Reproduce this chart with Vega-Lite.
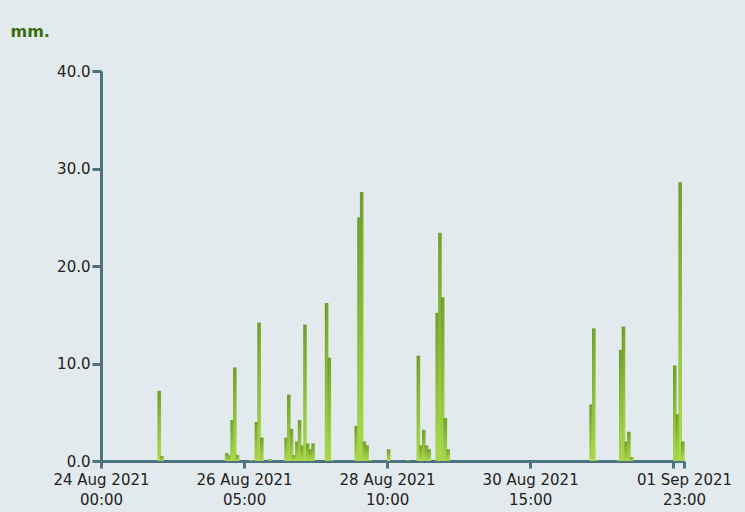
{
  "$schema": "https://vega.github.io/schema/vega-lite/v6.json",
  "width": 583,
  "height": 390,
  "autosize": {"type": "none"},
  "padding": {"left": 101, "top": 71, "right": 61, "bottom": 51},
  "background": "#e3eaed",
  "data": {"values": [
    {"time": "2021-08-24T21:00:00Z", "mm": 7.2},
    {"time": "2021-08-24T22:00:00Z", "mm": 0.5},
    {"time": "2021-08-25T22:00:00Z", "mm": 0.8},
    {"time": "2021-08-25T23:00:00Z", "mm": 0.6},
    {"time": "2021-08-26T00:00:00Z", "mm": 4.2},
    {"time": "2021-08-26T01:00:00Z", "mm": 9.6},
    {"time": "2021-08-26T02:00:00Z", "mm": 0.6},
    {"time": "2021-08-26T07:00:00Z", "mm": 0.1},
    {"time": "2021-08-26T09:00:00Z", "mm": 4.0},
    {"time": "2021-08-26T10:00:00Z", "mm": 14.2},
    {"time": "2021-08-26T11:00:00Z", "mm": 2.4},
    {"time": "2021-08-26T14:00:00Z", "mm": 0.2},
    {"time": "2021-08-26T20:00:00Z", "mm": 2.4},
    {"time": "2021-08-26T21:00:00Z", "mm": 6.8},
    {"time": "2021-08-26T22:00:00Z", "mm": 3.3},
    {"time": "2021-08-26T23:00:00Z", "mm": 0.6},
    {"time": "2021-08-27T00:00:00Z", "mm": 2.0},
    {"time": "2021-08-27T01:00:00Z", "mm": 4.2},
    {"time": "2021-08-27T02:00:00Z", "mm": 1.6},
    {"time": "2021-08-27T03:00:00Z", "mm": 14.0},
    {"time": "2021-08-27T04:00:00Z", "mm": 1.8},
    {"time": "2021-08-27T05:00:00Z", "mm": 1.2},
    {"time": "2021-08-27T06:00:00Z", "mm": 1.8},
    {"time": "2021-08-27T11:00:00Z", "mm": 16.2},
    {"time": "2021-08-27T12:00:00Z", "mm": 10.6},
    {"time": "2021-08-27T13:00:00Z", "mm": 0.1},
    {"time": "2021-08-27T22:00:00Z", "mm": 3.6},
    {"time": "2021-08-27T23:00:00Z", "mm": 25.0},
    {"time": "2021-08-28T00:00:00Z", "mm": 27.6},
    {"time": "2021-08-28T01:00:00Z", "mm": 2.0},
    {"time": "2021-08-28T02:00:00Z", "mm": 1.6},
    {"time": "2021-08-28T03:00:00Z", "mm": 0.1},
    {"time": "2021-08-28T10:00:00Z", "mm": 1.2},
    {"time": "2021-08-28T17:00:00Z", "mm": 0.1},
    {"time": "2021-08-28T21:00:00Z", "mm": 10.8},
    {"time": "2021-08-28T22:00:00Z", "mm": 1.6},
    {"time": "2021-08-28T23:00:00Z", "mm": 3.2},
    {"time": "2021-08-29T00:00:00Z", "mm": 1.6},
    {"time": "2021-08-29T01:00:00Z", "mm": 1.2},
    {"time": "2021-08-29T04:00:00Z", "mm": 15.2},
    {"time": "2021-08-29T05:00:00Z", "mm": 23.4},
    {"time": "2021-08-29T06:00:00Z", "mm": 16.8},
    {"time": "2021-08-29T07:00:00Z", "mm": 4.4},
    {"time": "2021-08-29T08:00:00Z", "mm": 1.2},
    {"time": "2021-08-31T13:00:00Z", "mm": 5.8},
    {"time": "2021-08-31T14:00:00Z", "mm": 13.6},
    {"time": "2021-08-31T15:00:00Z", "mm": 0.1},
    {"time": "2021-08-31T23:00:00Z", "mm": 0.1},
    {"time": "2021-09-01T00:00:00Z", "mm": 11.4},
    {"time": "2021-09-01T01:00:00Z", "mm": 13.8},
    {"time": "2021-09-01T02:00:00Z", "mm": 2.0},
    {"time": "2021-09-01T03:00:00Z", "mm": 3.0},
    {"time": "2021-09-01T04:00:00Z", "mm": 0.4},
    {"time": "2021-09-01T20:00:00Z", "mm": 9.8},
    {"time": "2021-09-01T21:00:00Z", "mm": 4.8},
    {"time": "2021-09-01T22:00:00Z", "mm": 28.6},
    {"time": "2021-09-01T23:00:00Z", "mm": 2.0}
  ]},
  "mark": {
    "type": "bar",
    "width": 3.6,
    "xOffset": 1.6,
    "color": {
      "gradient": "linear",
      "x1": 0, "y1": 0, "x2": 0.25, "y2": 1,
      "stops": [
        {"offset": 0, "color": "#6a9827"},
        {"offset": 1, "color": "#a9d84d"}
      ]
    }
  },
  "encoding": {
    "x": {
      "field": "time",
      "type": "temporal",
      "scale": {
        "type": "utc",
        "padding": 0,
        "domain": [
          {"year": 2021, "month": 8, "date": 24, "hours": 0, "utc": true},
          {"year": 2021, "month": 9, "date": 2, "hours": 0, "utc": true}
        ]
      },
      "axis": {
        "title": null,
        "grid": false,
        "values": [
          {"year": 2021, "month": 8, "date": 24, "hours": 0, "utc": true},
          {"year": 2021, "month": 8, "date": 26, "hours": 5, "utc": true},
          {"year": 2021, "month": 8, "date": 28, "hours": 10, "utc": true},
          {"year": 2021, "month": 8, "date": 30, "hours": 15, "utc": true},
          {"year": 2021, "month": 9, "date": 1, "hours": 20, "utc": true},
          {"year": 2021, "month": 9, "date": 2, "hours": 0, "utc": true}
        ],
        "labelExpr": "datum.value >= utc(2021,8,1,23) ? ['01 Sep 2021','23:00'] : (datum.value >= utc(2021,8,1,12) ? '' : [utcFormat(datum.value,'%d %b %Y'), utcFormat(datum.value,'%H:%M')])",
        "labelOverlap": false,
        "labelFlush": false,
        "labelBaseline": "top",
        "labelPadding": 4,
        "labelLineHeight": 20,
        "labelFont": "DejaVu Sans",
        "labelFontSize": 15,
        "labelColor": "#222222",
        "domainColor": "#4d7382",
        "domainWidth": 3,
        "tickColor": "#4d7382",
        "tickWidth": 3,
        "tickSize": 7
      }
    },
    "y": {
      "field": "mm",
      "type": "quantitative",
      "scale": {"domain": [0, 40], "nice": false},
      "axis": {
        "values": [0, 10, 20, 30, 40],
        "format": ".1f",
        "grid": false,
        "title": "mm.",
        "titleAngle": 0,
        "titleX": -91,
        "titleY": -35,
        "titleAlign": "left",
        "titleBaseline": "alphabetic",
        "titleFont": "DejaVu Sans",
        "titleFontSize": 16,
        "titleFontWeight": "bold",
        "titleColor": "#3b6b0c",
        "labelFont": "DejaVu Sans",
        "labelFontSize": 15,
        "labelColor": "#222222",
        "labelPadding": 2,
        "domainColor": "#4d7382",
        "domainWidth": 3,
        "tickColor": "#4d7382",
        "tickWidth": 3,
        "tickSize": 9
      }
    }
  },
  "config": {"view": {"stroke": null}}
}
